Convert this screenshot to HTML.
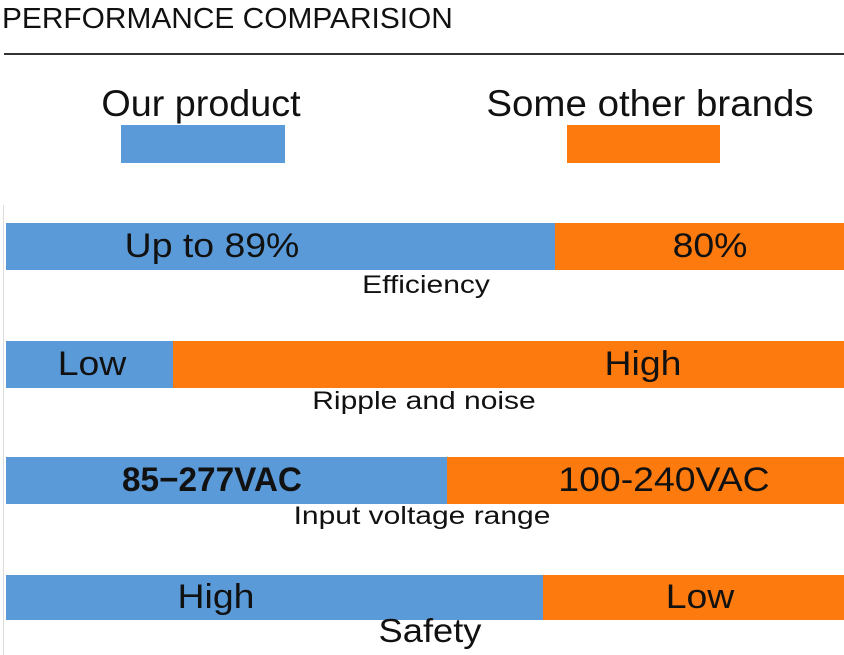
<!DOCTYPE html>
<html><head><style>
body{margin:0;width:844px;height:655px;background:#fff;position:relative;overflow:hidden;font-family:"Liberation Sans",sans-serif;color:#111}
.a{position:absolute;white-space:nowrap}
.c{transform:translateX(-50%)}
.bar{position:absolute;left:6px;width:838px;height:47px;background:#fd7a0e}
.bar .b{position:absolute;left:0;top:0;height:100%;background:#5a9ad8}
.bt{position:absolute;top:4px;font-size:34px;transform:translateX(-50%) scaleX(1.1);white-space:nowrap}
.lab{font-size:25px;transform:translateX(-50%) scaleX(1.2)}
</style></head><body>
<div class="a" style="left:2px;top:3px;font-size:29px;transform-origin:0 0;transform:scaleX(1.03)">PERFORMANCE COMPARISION</div>
<div class="a" style="left:4px;top:53px;width:840px;height:2px;background:#333"></div>
<div class="a" style="left:201px;top:83px;font-size:37px;transform:translateX(-50%) scaleX(1.02)">Our product</div>
<div class="a" style="left:121px;top:125px;width:164px;height:38px;background:#5a9ad8"></div>
<div class="a" style="left:650px;top:83px;font-size:37px;transform:translateX(-50%) scaleX(1.04)">Some other brands</div>
<div class="a" style="left:567px;top:125px;width:153px;height:38px;background:#fd7a0e"></div>
<div class="a" style="left:3px;top:205px;width:1px;height:450px;background:#ddd"></div>

<div class="bar" style="top:223px"><div class="b" style="width:549px"></div>
<div class="bt" style="left:206px">Up to 89%</div><div class="bt" style="left:704px">80%</div></div>
<div class="a lab" style="left:426px;top:271px">Efficiency</div>

<div class="bar" style="top:341px"><div class="b" style="width:167px"></div>
<div class="bt" style="left:86px">Low</div><div class="bt" style="left:637px">High</div></div>
<div class="a lab" style="left:424px;top:387px">Ripple and noise</div>

<div class="bar" style="top:457px"><div class="b" style="width:441px"></div>
<div class="bt" style="left:206px;font-weight:bold;transform:translateX(-50%) scaleX(0.98)">85−277VAC</div><div class="bt" style="left:658px">100-240VAC</div></div>
<div class="a lab" style="left:422px;top:502px">Input voltage range</div>

<div class="bar" style="top:575px;height:45px"><div class="b" style="width:537px"></div>
<div class="bt" style="left:210px;top:3px">High</div><div class="bt" style="left:694px;top:3px">Low</div></div>
<div class="a lab" style="left:430px;top:612px;font-size:33px;transform:translateX(-50%) scaleX(1.1)">Safety</div>
</body></html>
